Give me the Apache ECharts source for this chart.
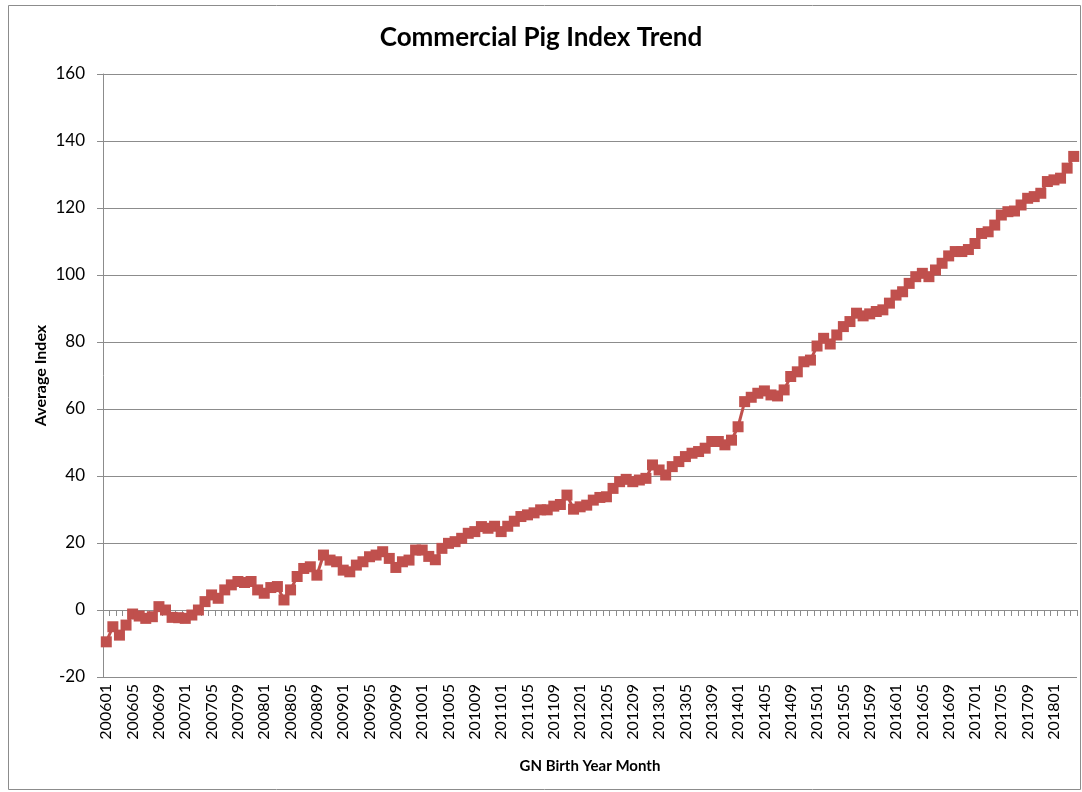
<!DOCTYPE html>
<html>
<head>
<meta charset="utf-8">
<script src="https://cdn.jsdelivr.net/npm/echarts@6/dist/echarts.min.js"></script>
<style>
  html, body { margin: 0; padding: 0; background: #fff; }
  #chart { width: 1082px; height: 792px; }
</style>
</head>
<body>
<div id="chart"></div>
<script>
// 月份类目 200601 ~ 201804
var months = [];
for (var y = 2006; y <= 2018; y++) {
  for (var m = 1; m <= 12; m++) {
    if (y === 2018 && m > 4) break;
    months.push(String(y) + (m < 10 ? '0' + m : m));
  }
}

// 平均指数，按年分行
var idx2006 = [-9.5, -5, -7.5, -4.5, -1.2, -1.8, -2.5, -2, 1, 0, -2.2, -2.3];
var idx2007 = [-2.5, -1.5, 0, 2.5, 4.5, 3.5, 6, 7.5, 8.5, 8.2, 8.5, 6];
var idx2008 = [5, 6.7, 7, 3, 6, 10, 12.4, 12.9, 10.4, 16.4, 14.9, 14.4];
var idx2009 = [11.9, 11.4, 13.4, 14.4, 15.9, 16.4, 17.4, 15.4, 12.7, 14.4, 14.9, 17.9];
var idx2010 = [17.9, 16, 15, 18.4, 19.9, 20.4, 21.4, 22.9, 23.4, 24.9, 24.4, 25];
var idx2011 = [23.4, 25, 26.5, 27.9, 28.4, 29, 29.9, 29.9, 31, 31.5, 34.3, 30.1];
var idx2012 = [30.8, 31.3, 32.8, 33.6, 33.8, 36.3, 38.3, 39, 38.3, 38.8, 39.3, 43.3];
var idx2013 = [41.8, 40.3, 42.8, 44.3, 45.8, 46.8, 47.3, 48.3, 50.3, 50.3, 49.3, 50.7];
var idx2014 = [54.7, 62.2, 63.5, 64.7, 65.4, 64.2, 63.9, 65.7, 69.7, 71.1, 74.1, 74.6];
var idx2015 = [78.8, 81.1, 79.4, 82.1, 84.6, 86.1, 88.6, 87.8, 88.4, 89.1, 89.6, 91.6];
var idx2016 = [94, 95, 97.5, 99.5, 100.5, 99.5, 101.5, 103.5, 105.7, 107, 107, 107.6];
var idx2017 = [109.4, 112.4, 112.9, 114.9, 117.9, 118.9, 119.1, 120.9, 122.9, 123.4, 124.4, 127.9];
var idx2018 = [128.4, 128.9, 131.9, 135.4];

var avgIndex = [].concat(idx2006, idx2007, idx2008, idx2009, idx2010, idx2011,
  idx2012, idx2013, idx2014, idx2015, idx2016, idx2017, idx2018);

var yTicks = { min: -20, max: 160, step: 20 };

var font = 'Lato, "Liberation Sans", sans-serif';
var gridColor = '#8c8c8c';

var chart = echarts.init(document.getElementById('chart'));
chart.setOption({
  animation: false,
  backgroundColor: '#fff',
  title: {
    text: 'Commercial Pig Index Trend',
    left: 'center',
    top: 20,
    textStyle: { fontFamily: font, fontSize: 26, fontWeight: 'bold', color: '#000' }
  },
  graphic: [{
    type: 'rect',
    shape: { x: 8.5, y: 5.5, width: 1072, height: 784 },
    style: { fill: 'none', stroke: '#8c8c8c', lineWidth: 1 },
    silent: true
  }],
  grid: { left: 103, right: 5, top: 74, bottom: 115, containLabel: false },
  xAxis: {
    type: 'category',
    data: months,
    boundaryGap: true,
    name: 'GN Birth Year Month',
    nameLocation: 'middle',
    nameGap: 82,
    nameTextStyle: { fontFamily: font, fontSize: 15, fontWeight: 'bold', color: '#000' },
    axisLine: { lineStyle: { color: gridColor, width: 1 } },
    axisTick: { show: true, interval: 0, length: 6, alignWithLabel: false, lineStyle: { color: gridColor } },
    axisLabel: { interval: 3, rotate: 90, margin: 7, fontFamily: font, fontSize: 16, color: '#000' },
    splitLine: { show: false }
  },
  yAxis: {
    type: 'value',
    min: yTicks.min,
    max: yTicks.max,
    interval: yTicks.step,
    name: 'Average Index',
    nameLocation: 'middle',
    nameGap: 54,
    nameMoveOverlap: false,
    nameTextStyle: { fontFamily: font, fontSize: 16, fontWeight: 'bold', color: '#000' },
    axisLine: { show: true, lineStyle: { color: gridColor, width: 1 } },
    axisTick: { show: true, length: 6, lineStyle: { color: gridColor } },
    axisLabel: { margin: 18, fontFamily: font, fontSize: 17, color: '#000' },
    splitLine: { show: true, lineStyle: { color: gridColor, width: 1 } }
  },
  series: [{
    type: 'line',
    data: avgIndex,
    symbol: 'rect',
    symbolSize: 11,
    showAllSymbol: true,
    lineStyle: { color: '#c0504d', width: 3 },
    itemStyle: { color: '#c0504d', borderWidth: 0 }
  }]
});
</script>
</body>
</html>
